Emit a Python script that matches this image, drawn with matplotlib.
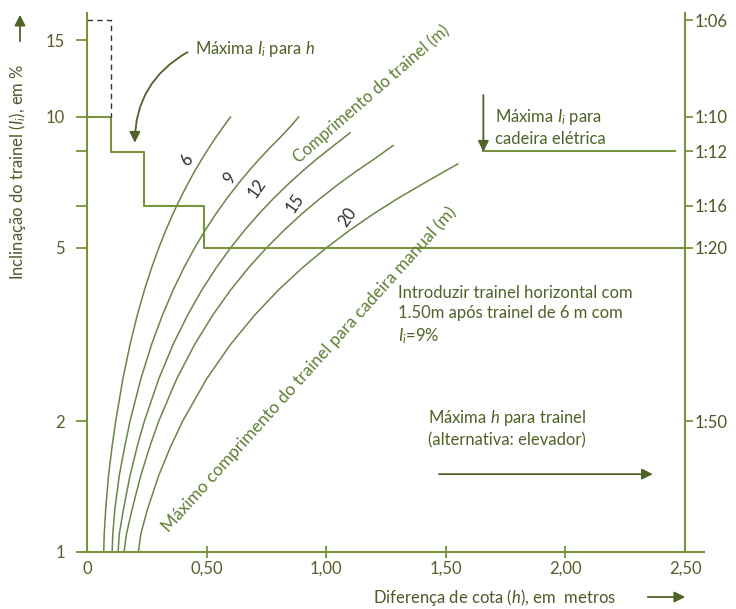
import matplotlib.pyplot as plt
from matplotlib.patches import FancyArrowPatch

plt.rcParams['font.family'] = ['Lato', 'DejaVu Sans']
plt.rcParams['mathtext.fontset'] = 'custom'
plt.rcParams['mathtext.rm'] = 'Lato'
plt.rcParams['mathtext.it'] = 'Lato:italic'

# curves: inclination (%) vs height difference (m), one per ramp length
curve_lengths = ['6', '9', '12', '15', '20']
i_6 = [1, 1.1, 1.25, 1.5, 1.75, 2, 2.5, 3, 3.5, 4, 4.5, 5, 5.5, 6, 6.5, 7, 7.5, 8, 8.5, 9, 9.5, 10]
h_6 = [0.070, 0.072, 0.078, 0.090, 0.105, 0.120, 0.150, 0.180, 0.210, 0.240, 0.270,
       0.300, 0.330, 0.360, 0.390, 0.420, 0.450, 0.480, 0.510, 0.540, 0.570, 0.600]
i_9 = [1, 1.1, 1.25, 1.5, 1.75, 2, 2.5, 3, 3.5, 4, 4.5, 5, 5.5, 6, 6.5, 7, 7.5, 8, 8.5, 9, 9.5, 10]
h_9 = [0.105, 0.108, 0.116, 0.135, 0.158, 0.180, 0.225, 0.270, 0.315, 0.360, 0.405,
       0.450, 0.495, 0.540, 0.585, 0.630, 0.675, 0.720, 0.765, 0.810, 0.850, 0.885]
i_12 = [1, 1.1, 1.25, 1.5, 1.75, 2, 2.5, 3, 3.5, 4, 4.5, 5, 5.5, 6, 6.5, 7, 7.5, 8, 8.5, 9.2]
h_12 = [0.130, 0.135, 0.152, 0.180, 0.210, 0.240, 0.300, 0.360, 0.420, 0.480, 0.540,
        0.600, 0.660, 0.720, 0.780, 0.840, 0.900, 0.960, 1.020, 1.100]
i_15 = [1, 1.1, 1.25, 1.5, 1.75, 2, 2.5, 3, 3.5, 4, 4.5, 5, 5.5, 6, 6.5, 7, 7.5, 8, 8.6]
h_15 = [0.155, 0.165, 0.188, 0.225, 0.263, 0.300, 0.375, 0.450, 0.525, 0.600, 0.675,
        0.750, 0.825, 0.900, 0.975, 1.050, 1.125, 1.200, 1.280]
i_20 = [1, 1.1, 1.25, 1.5, 1.75, 2, 2.5, 3, 3.5, 4, 4.5, 5, 5.5, 6, 6.5, 7, 7.8]
h_20 = [0.215, 0.225, 0.252, 0.300, 0.350, 0.400, 0.500, 0.600, 0.700, 0.800, 0.900,
        1.000, 1.100, 1.200, 1.300, 1.400, 1.550]
curve_i = [i_6, i_9, i_12, i_15, i_20]
curve_h = [h_6, h_9, h_12, h_15, h_20]

# label positions for the length numbers
num_h = [0.418, 0.598, 0.711, 0.870, 1.088]
num_i = [7.96, 7.25, 6.87, 6.35, 5.89]

# max inclination for h (steps)
step_h = [0, 0.10, 0.10, 0.24, 0.24, 0.49, 0.49, 2.5]
step_i = [10, 10, 8.33, 8.33, 6.25, 6.25, 5, 5]
dash_h = [0, 0.10, 0.10]
dash_i = [16.7, 16.7, 10]

# electric wheelchair limit
elec_h = [1.657, 2.46]
elec_i = [8.333, 8.333]

left_ticks = [1, 2, 5, 10, 15]
left_extra = [100 / 12, 100 / 16]
right_ticks = [100 / 6, 10, 100 / 12, 100 / 16, 5, 2]
right_labels = ['1:06', '1:10', '1:12', '1:16', '1:20', '1:50']
x_ticks = [0, 0.5, 1.0, 1.5, 2.0, 2.5]
x_labels = ['0', '0,50', '1,00', '1,50', '2,00', '2,50']

line_c = '#77933C'
curve_c = '#6a8548'
text_c = '#4f6228'
tick_c = '#5e5c2a'
arrow_c = '#4f6228'
fs = 12

fig = plt.figure(figsize=(7.36, 6.09), dpi=100)
ax = fig.add_axes([87 / 736, 57 / 609, 598 / 736, 539 / 609])
ax.set_yscale('log')
ax.set_xlim(0, 2.5)
ax.set_ylim(1, 17.34)

for hs, ins in zip(curve_h, curve_i):
    ax.plot(hs, ins, color=curve_c, lw=1.1, solid_joinstyle='round')
for lab, x, y in zip(curve_lengths, num_h, num_i):
    ax.text(x, y, lab, rotation=55, ha='center', va='center',
            fontsize=12, color='#2e2e2e')

ax.plot(step_h, step_i, color=line_c, lw=1.5)
ax.plot(dash_h, dash_i, color='#333333', lw=1.0, ls=(0, (4, 3)))
ax.plot(elec_h, elec_i, color=line_c, lw=1.5)

ax.annotate('', xy=(0.2, 8.6), xytext=(0.43, 14.2),
            arrowprops=dict(arrowstyle='-|>', connectionstyle='arc3,rad=0.3',
                            color=arrow_c, lw=1.3, mutation_scale=16))
ax.text(0.45, 14.3, r'Máxima $I_i$ para $h$', fontsize=fs, color=text_c,
        va='center', ha='left')

ax.text(1.19, 11.3, 'Comprimento do trainel (m)', rotation=41, fontsize=fs,
        color='#5f7f35', ha='center', va='center')
ax.text(0.93, 2.635, 'Máximo comprimento do trainel para cadeira manual (m)',
        rotation=48, fontsize=12.5, color='#5f7f35', ha='center', va='center')

ax.annotate('', xy=(1.657, 8.2), xytext=(1.657, 11.4),
            arrowprops=dict(arrowstyle='-|>', color=arrow_c, lw=1.3,
                            mutation_scale=16))
ax.text(1.707, 9.47, 'Máxima $I_i$ para\ncadeira elétrica', fontsize=fs,
        color=text_c, va='center', ha='left', linespacing=1.3)

ax.text(1.30, 4.1, 'Introduzir trainel horizontal com\n1.50m após trainel de 6 m com\n$I_i$=9%',
        fontsize=fs, color=text_c, va='top', ha='left', linespacing=1.3)

ax.text(1.427, 2.14, 'Máxima $h$ para trainel\n(alternativa: elevador)',
        fontsize=fs, color=text_c, va='top', ha='left', linespacing=1.3)
ax.annotate('', xy=(2.377, 1.51), xytext=(1.46, 1.51),
            arrowprops=dict(arrowstyle='-|>', color=arrow_c, lw=1.3,
                            mutation_scale=16))

# spines
for s in ['top', 'right']:
    ax.spines[s].set_visible(False)
for s in ['left', 'bottom']:
    ax.spines[s].set_color(line_c)
    ax.spines[s].set_linewidth(1.5)
ax.spines['bottom'].set_bounds(-0.03, 2.58)

ax.set_yticks(left_ticks + left_extra)
ax.set_yticklabels([str(t) for t in left_ticks] + ['', ''])
ax.minorticks_off()
ax.tick_params(axis='y', direction='out', length=8, width=1.3, color=line_c,
               labelcolor=tick_c, labelsize=fs, pad=8)
ax.set_xticks(x_ticks)
ax.set_xticklabels(x_labels)
ax.tick_params(axis='x', direction='inout', length=9, width=1.3, color=line_c,
               labelcolor=tick_c, labelsize=fs, pad=2)
xt = ax.xaxis.get_major_ticks()
xt[0].tick1line.set_visible(False)
xt[-1].tick1line.set_visible(False)

ax2 = ax.twinx()
ax2.set_yscale('log')
ax2.set_ylim(1, 17.34)
for s in ['top', 'left', 'bottom']:
    ax2.spines[s].set_visible(False)
ax2.spines['right'].set_color(line_c)
ax2.spines['right'].set_linewidth(1.5)
ax2.set_yticks(right_ticks)
ax2.set_yticklabels(right_labels)
ax2.minorticks_off()
ax2.tick_params(axis='y', direction='out', length=6, width=1.3, color=line_c,
                labelcolor='#4a5a22', labelsize=fs, pad=1)

# axis titles with arrows
fig.text(18 / 736, 1 - 172 / 609, r'Inclinação do trainel ($I_i$), em %',
         rotation=90, ha='center', va='center', fontsize=fs, color='#4f5a2a')
fig.patches.append(FancyArrowPatch(
    (20 / 736, 1 - 44 / 609), (20 / 736, 1 - 12 / 609), transform=fig.transFigure,
    arrowstyle='-|>', mutation_scale=16, color=arrow_c, lw=1.3))
fig.text(495 / 736, 1 - 597 / 609, r'Diferença de cota ($h$), em  metros',
         ha='center', va='center', fontsize=fs, color='#4f5a2a')
fig.patches.append(FancyArrowPatch(
    (645 / 736, 1 - 597 / 609), (688 / 736, 1 - 597 / 609), transform=fig.transFigure,
    arrowstyle='-|>', mutation_scale=16, color=arrow_c, lw=1.3))

fig.savefig('out.png', dpi=100)
